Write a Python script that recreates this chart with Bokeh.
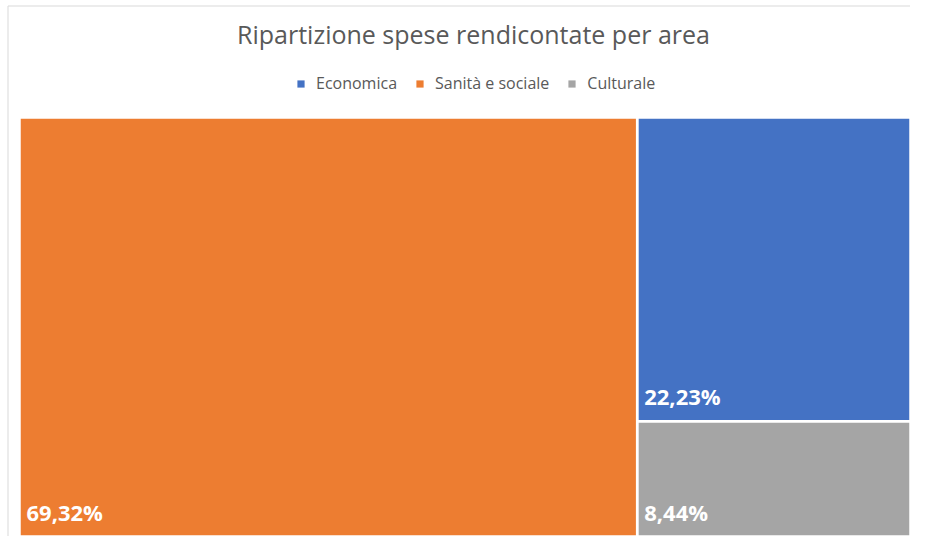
from bokeh.plotting import figure
from bokeh.models import ColumnDataSource, Legend, LegendItem, Label
from bokeh.embed import file_html
from bokeh.resources import INLINE
from bokeh.core.properties import value

# ---- data ----
categories = ["Economica", "Sanità e sociale", "Culturale"]
shares = [22.23, 69.32, 8.44]
colors = ["#4472C4", "#ED7D31", "#A5A5A5"]
value_labels = ["22,23%", "69,32%", "8,44%"]

TITLE = "Ripartizione spese rendicontate per area"

# ---- layout constants (data units == pixels) ----
FIG_W, FIG_H = 910, 536
PAD_L, PAD_B = 19, 0
W, H = 891.0, 419.0
LABEL_PAD = 25


def worst(row, short):
    s = sum(row)
    return max(max(short * short * r / (s * s), s * s / (short * short * r)) for r in row)


def squarify(sizes, x, y, w, h):
    out = []
    sizes = list(sizes)
    while sizes:
        short = min(w, h)
        row = [sizes.pop(0)]
        while sizes and worst(row + [sizes[0]], short) <= worst(row, short):
            row.append(sizes.pop(0))
        s = sum(row)
        if w >= h:
            rw = s / h
            yy = y + h
            for a in row:
                rh = a / rw
                out.append((x, yy - rh, x + rw, yy))
                yy -= rh
            x += rw
            w -= rw
        else:
            rh = s / w
            xx = x
            for a in row:
                cw = a / rh
                out.append((xx, y + h - rh, xx + cw, y + h))
                xx += cw
            h -= rh
    return out


order = sorted(range(len(shares)), key=lambda i: -shares[i])
total = sum(shares)
areas = [shares[i] / total * W * H for i in order]
rects = squarify(areas, 0.0, 0.0, W, H)
rect_of = {i: rects[k] for k, i in enumerate(order)}

p = figure(width=FIG_W, height=FIG_H,
           x_range=(-PAD_L, FIG_W - PAD_L), y_range=(-PAD_B, FIG_H - PAD_B),
           output_backend="svg", toolbar_location=None,
           min_border_left=0, min_border_right=0, min_border_bottom=0,
           min_border_top=0)
p.axis.visible = False
p.grid.visible = False
p.outline_line_color = None

# light chart-area border (only top/left edges fall inside the canvas)
p.quad(left=[7.5 - PAD_L], right=[FIG_W + 50], bottom=[-50], top=[FIG_H - PAD_B - 5.5],
       fill_alpha=0, line_color="#d9d9d9", line_width=1)

p.add_layout(Label(x=473 - PAD_L, y=FIG_H - PAD_B - 33, text=TITLE,
                   text_align="center", text_baseline="middle",
                   text_font="Open Sans", text_font_size="25px",
                   text_color="#595959"))

items = []
for i, (cat, col) in enumerate(zip(categories, colors)):
    l, b, r, t = rect_of[i]
    rr = p.quad(left=[l], right=[r], bottom=[b], top=[t], fill_color=col, line_alpha=0)
    items.append(LegendItem(label=cat, renderers=[rr]))

src = ColumnDataSource(dict(
    left=[r[0] for r in rects],
    bottom=[r[1] for r in rects],
    right=[r[2] for r in rects],
    top=[r[3] for r in rects],
    label_y=[r[1] + LABEL_PAD for r in rects],
    label=[value_labels[i] for i in order],
))
p.quad(left="left", right="right", bottom="bottom", top="top", source=src,
       fill_alpha=0, line_color="white", line_width=2.5)

p.text(x="left", y="label_y", text="label", source=src,
       x_offset=7, text_baseline="alphabetic",
       text_font=value("Open Sans"), text_font_style="bold",
       text_font_size="22px", text_color="white")

legend = Legend(items=items, orientation="horizontal", location=(296, 442),
                border_line_alpha=0, background_fill_alpha=0,
                label_text_font="Open Sans", label_text_font_size="16px",
                label_text_color="#595959", glyph_width=9, glyph_height=9,
                spacing=18, label_standoff=11, padding=0, margin=0)
p.add_layout(legend, "center")

open("out.html", "w").write(file_html(p, INLINE))
